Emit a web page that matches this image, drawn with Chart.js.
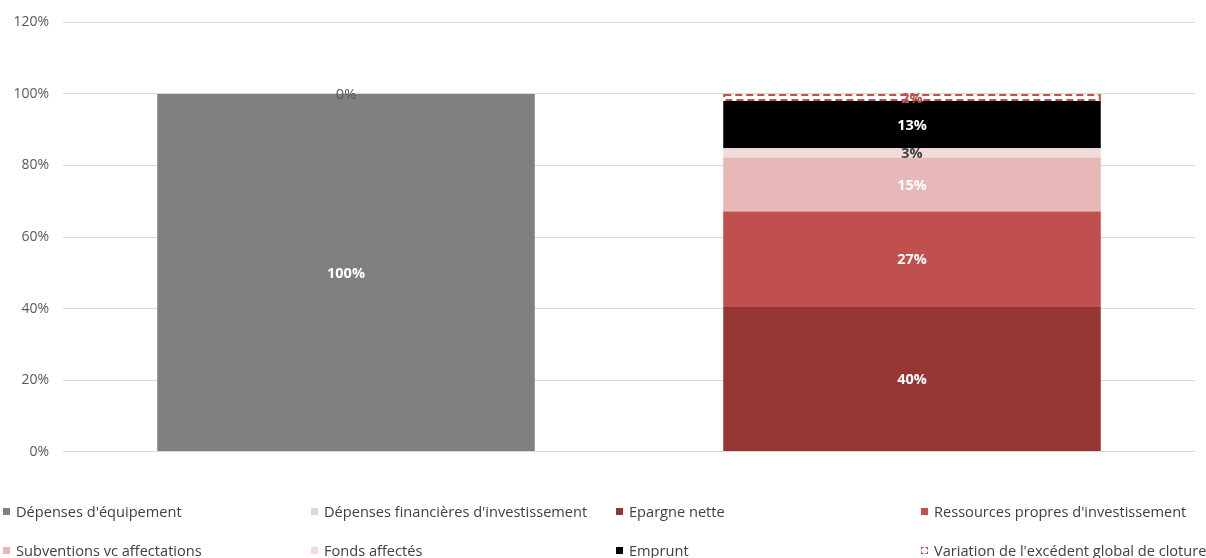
<!DOCTYPE html>
<html>
<head>
<meta charset="utf-8">
<script src="https://cdn.jsdelivr.net/npm/chart.js@4"></script>
<style>
    body { margin: 0; background: #fff; font-family: "Open Sans", Lato, sans-serif; }
    #wrap { position: relative; width: 1206px; height: 558px; overflow: hidden; }
    #chart-box { position: absolute; left: 0; top: 0; width: 1206px; height: 474px; }
    #legend { position: absolute; left: 0; top: 0; width: 1206px; height: 558px; pointer-events: none; }
    .item { position: absolute; font-size: 14.6px; color: #404040; white-space: nowrap; line-height: 18px; }
    .item .box { position: absolute; left: -13px; top: 6px; width: 7px; height: 7px; box-sizing: border-box; }
</style>
</head>
<body>
<div id="wrap">
    <div id="chart-box"><canvas id="chart"></canvas></div>
    <div id="legend"></div>
</div>
<script>
document.addEventListener('DOMContentLoaded', () => {

    // --- Data ---
    const categories = ['', ''];
    const seriesNames = [
        "Dépenses d'équipement",
        "Dépenses financières d'investissement",
        "Epargne nette",
        "Ressources propres d'investissement",
        "Subventions vc affectations",
        "Fonds affectés",
        "Emprunt",
        "Variation de l'excédent global de cloture"
    ];
    const depensesEquipement = [100, null];
    const depensesFinancieres = [0, null];
    const epargneNette = [null, 40.4];
    const ressourcesPropres = [null, 26.7];
    const subventions = [null, 15.1];
    const fondsAffectes = [null, 2.6];
    const emprunt = [null, 13.2];
    const variationExcedent = [null, 2.0];
    const yTicks = [0, 20, 40, 60, 80, 100, 120];

    const seriesValues = [depensesEquipement, depensesFinancieres, epargneNette, ressourcesPropres,
        subventions, fondsAffectes, emprunt, variationExcedent];
    const fills = ['#808080', '#d9d9d9', '#963634', '#c0504d', '#e6b8b7', '#f2dcdb', '#000000', '#ffffff'];
    const labelColors = ['#ffffff', '#595959', '#ffffff', '#ffffff', '#ffffff', '#404040', '#ffffff', '#c0504d'];

    const datasets = seriesNames.map((name, i) => ({
        label: name,
        data: seriesValues[i],
        backgroundColor: fills[i],
        borderWidth: 0,
        borderSkipped: false,
        categoryPercentage: 0.667,
        barPercentage: 1.0
    }));

    // Dashed outline for the last series
    const dashedBorder = {
        id: 'dashedBorder',
        afterDatasetsDraw(chart) {
            const ctx = chart.ctx;
            const last = chart.data.datasets.length - 1;
            chart.getDatasetMeta(last).data.forEach((bar, i) => {
                if (chart.data.datasets[last].data[i] == null) return;
                const w = bar.width;
                ctx.save();
                ctx.strokeStyle = '#c0504d';
                ctx.lineWidth = 2;
                ctx.setLineDash([7, 4]);
                ctx.strokeRect(bar.x - w / 2 + 1, bar.y + 1, w - 2, bar.base - bar.y - 2);
                ctx.restore();
            });
        }
    };

    // Value labels centred in each segment
    const valueLabels = {
        id: 'valueLabels',
        afterDatasetsDraw(chart) {
            const ctx = chart.ctx;
            ctx.save();
            ctx.textAlign = 'center';
            ctx.textBaseline = 'middle';
            chart.data.datasets.forEach((ds, di) => {
                chart.getDatasetMeta(di).data.forEach((bar, i) => {
                    const v = ds.data[i];
                    if (v == null) return;
                    ctx.font = (di === 1 ? '' : 'bold ') + '14.5px "Open Sans", Lato, sans-serif';
                    ctx.fillStyle = labelColors[di];
                    ctx.fillText(Math.round(v) + '%', bar.x, (bar.y + bar.base) / 2 + 1);
                });
            });
            ctx.restore();
        }
    };

    new Chart(document.getElementById('chart'), {
        type: 'bar',
        data: { labels: categories, datasets: datasets },
        options: {
            responsive: true,
            maintainAspectRatio: false,
            animation: false,
            layout: { padding: { top: 10, right: 11, left: 0, bottom: 0 } },
            plugins: {
                legend: { display: false },
                tooltip: { enabled: false }
            },
            scales: {
                x: {
                    stacked: true,
                    grid: { display: false },
                    border: { display: false },
                    ticks: { display: false }
                },
                y: {
                    stacked: true,
                    min: 0,
                    max: 120,
                    afterBuildTicks: axis => { axis.ticks = yTicks.map(v => ({ value: v })); },
                    afterFit: axis => { axis.width = 63; },
                    grid: { color: '#d9d9d9', lineWidth: 1, drawTicks: false },
                    border: { display: false },
                    ticks: {
                        padding: 14,
                        color: '#595959',
                        font: { family: '"Open Sans", Lato, sans-serif', size: 14 },
                        callback: v => v + '%'
                    }
                }
            }
        },
        plugins: [dashedBorder, valueLabels]
    });

    // --- HTML legend ---
    const legend = document.getElementById('legend');
    const colX = [16, 324, 629, 934];
    const rowY = [502, 541];
    seriesNames.forEach((name, i) => {
        const item = document.createElement('div');
        item.className = 'item';
        item.style.left = colX[i % 4] + 'px';
        item.style.top = rowY[Math.floor(i / 4)] + 'px';
        const box = document.createElement('span');
        box.className = 'box';
        if (i === seriesNames.length - 1) {
            box.style.border = '1px dashed #c0504d';
            box.style.background = '#fff';
        } else {
            box.style.background = fills[i];
        }
        item.appendChild(box);
        item.appendChild(document.createTextNode(name));
        legend.appendChild(item);
    });
});
</script>
</body>
</html>
